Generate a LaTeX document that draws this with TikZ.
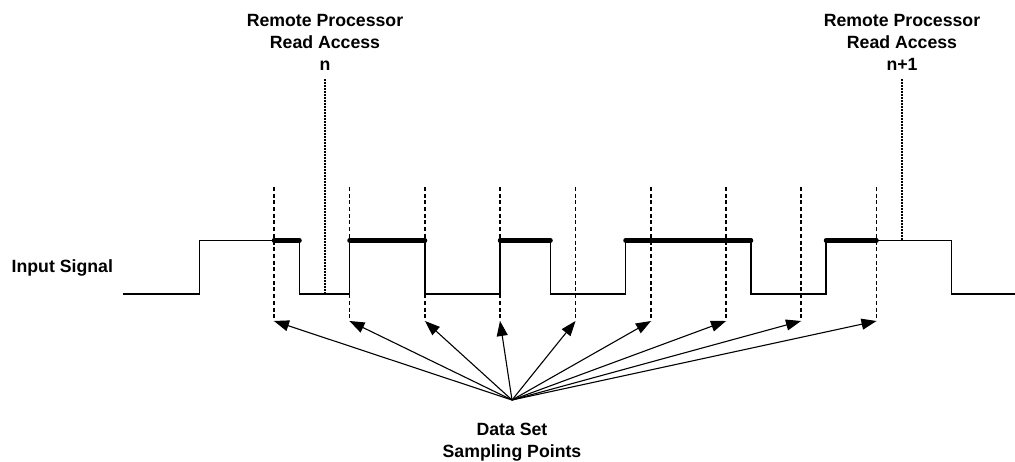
\documentclass[tikz,border=0pt]{standalone}
\usepackage{fontspec}
\setmainfont{Liberation Sans}
\usetikzlibrary{arrows.meta}
\begin{document}
\begin{tikzpicture}[x=1pt,y=-1pt,
  lbl/.style={font=\bfseries\fontsize{17.7}{22}\selectfont, align=center, inner sep=0pt},
  sig/.style={line width=1.8pt, line join=miter},
  hold/.style={line width=4.5pt, line cap=round},
  sample/.style={line width=1.6pt, dash pattern=on 4pt off 2.7pt},
  readline/.style={line width=1.6pt, dash pattern=on 2pt off 1pt},
  ptr/.style={line width=1.1pt, -{Triangle[length=15pt,width=11pt]}}]
\useasboundingbox (0,0) rectangle (1015,462);

% labels
\node[lbl, anchor=north] (rn) at (325,14) {Remote Processor\\Read Access\\n};
\node[lbl, anchor=north] (rn1) at (902,14) {Remote Processor\\Read Access\\n+1};
\node[lbl, anchor=base west] (in) at (11.5,272.5) {Input Signal};
\node[lbl, anchor=north] (ds) at (512,422.5) {Data Set\\Sampling Points};

% input signal
\draw[sig] (123,294) -- (199.5,294) -- (199.5,240.5) -- (299.5,240.5) -- (299.5,294)
  -- (349.5,294) -- (349.5,240.5) -- (425,240.5) -- (425,294)
  -- (500,294) -- (500,240.5) -- (550.5,240.5) -- (550.5,294)
  -- (625.5,294) -- (625.5,240.5) -- (751,240.5) -- (751,294)
  -- (826,294) -- (826,240.5) -- (951.5,240.5) -- (951.5,294) -- (1015,294);

% held data segments
\draw[hold] (274,240.5) -- (299.5,240.5);
\draw[hold] (349.5,240.5) -- (425,240.5);
\draw[hold] (500,240.5) -- (550.5,240.5);
\draw[hold] (625.5,240.5) -- (751,240.5);
\draw[hold] (826,240.5) -- (876.5,240.5);

% remote read accesses
\coordinate (ra) at (325,79);
\coordinate (rb) at (325,294);
\coordinate (rc) at (902,79);
\coordinate (rd) at (902,240.5);
\draw[readline] (ra) -- (rb);
\draw[readline] (rc) -- (rd);

% sampling points
\coordinate (src) at (512,400);
\foreach \i/\x in {1/274,2/349.5,3/425,4/500,5/575.5,6/651,7/726,8/801,9/876.5}{
  \coordinate (t\i) at (\x,187);
  \coordinate (b\i) at (\x,321);
  \draw[sample] (t\i) -- (b\i);
  \draw[ptr] (src) -- (b\i);
}
\end{tikzpicture}
\end{document}
